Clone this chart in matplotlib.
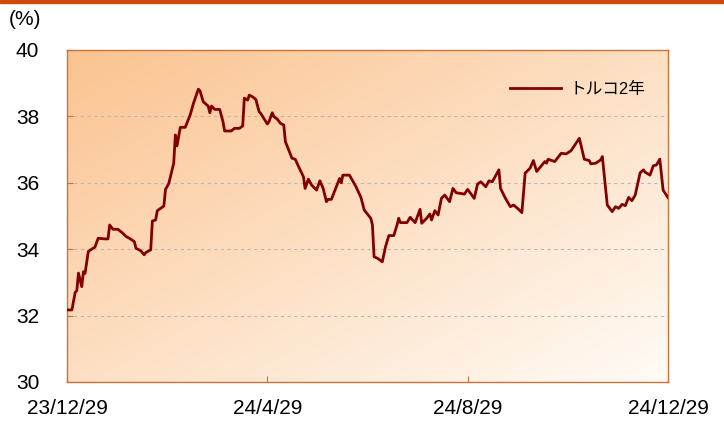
import numpy as np
import pandas as pd
import matplotlib
matplotlib.use('Agg')
import matplotlib.pyplot as plt
from matplotlib.patches import Rectangle

plt.rcParams['font.family'] = ['Liberation Sans', 'Noto Sans CJK JP', 'DejaVu Sans']

# トルコ2年国債利回り (%)
dates = [
    '2023-12-29', '2024-01-01', '2024-01-03', '2024-01-04', '2024-01-05', '2024-01-06',
    '2024-01-07', '2024-01-08', '2024-01-09', '2024-01-11', '2024-01-13', '2024-01-15',
    '2024-01-17', '2024-01-21', '2024-01-23', '2024-01-24', '2024-01-26', '2024-01-29',
    '2024-02-01', '2024-02-03', '2024-02-05', '2024-02-08', '2024-02-09', '2024-02-12',
    '2024-02-14', '2024-02-15', '2024-02-18', '2024-02-19', '2024-02-21', '2024-02-22',
    '2024-02-26', '2024-02-27', '2024-02-29', '2024-03-03', '2024-03-04', '2024-03-05',
    '2024-03-07', '2024-03-10', '2024-03-13', '2024-03-15', '2024-03-18', '2024-03-19',
    '2024-03-21', '2024-03-24', '2024-03-25', '2024-03-26', '2024-03-28', '2024-03-31',
    '2024-04-02', '2024-04-03', '2024-04-07', '2024-04-09', '2024-04-12', '2024-04-14',
    '2024-04-15', '2024-04-17', '2024-04-18', '2024-04-20', '2024-04-22', '2024-04-24',
    '2024-04-25', '2024-04-29', '2024-04-30', '2024-05-02', '2024-05-03', '2024-05-05',
    '2024-05-07', '2024-05-09', '2024-05-10', '2024-05-12', '2024-05-14', '2024-05-16',
    '2024-05-18', '2024-05-21', '2024-05-22', '2024-05-24', '2024-05-26', '2024-05-29',
    '2024-05-31', '2024-06-02', '2024-06-04', '2024-06-05', '2024-06-07', '2024-06-10',
    '2024-06-12', '2024-06-13', '2024-06-14', '2024-06-18', '2024-06-22', '2024-06-25',
    '2024-06-27', '2024-07-01', '2024-07-02', '2024-07-03', '2024-07-05', '2024-07-08',
    '2024-07-10', '2024-07-12', '2024-07-15', '2024-07-17', '2024-07-18', '2024-07-19',
    '2024-07-23', '2024-07-25', '2024-07-28', '2024-07-31', '2024-08-01', '2024-08-04',
    '2024-08-06', '2024-08-07', '2024-08-09', '2024-08-11', '2024-08-13', '2024-08-15',
    '2024-08-18', '2024-08-20', '2024-08-22', '2024-08-27', '2024-08-29', '2024-09-02',
    '2024-09-04', '2024-09-06', '2024-09-09', '2024-09-11', '2024-09-13', '2024-09-17',
    '2024-09-18', '2024-09-21', '2024-09-24', '2024-09-26', '2024-09-29', '2024-10-01',
    '2024-10-03', '2024-10-06', '2024-10-08', '2024-10-10', '2024-10-15', '2024-10-16',
    '2024-10-17', '2024-10-21', '2024-10-25', '2024-10-28', '2024-10-31', '2024-11-03',
    '2024-11-05', '2024-11-08', '2024-11-11', '2024-11-12', '2024-11-15', '2024-11-18',
    '2024-11-19', '2024-11-22', '2024-11-25', '2024-11-27', '2024-11-29', '2024-12-01',
    '2024-12-03', '2024-12-05', '2024-12-07', '2024-12-09', '2024-12-12', '2024-12-14',
    '2024-12-15', '2024-12-18', '2024-12-20', '2024-12-22', '2024-12-24', '2024-12-26',
    '2024-12-28', '2024-12-29',
]
yields = [
    32.17, 32.17, 32.70, 32.75, 33.28, 33.07,
    32.87, 33.32, 33.27, 33.93, 34.00, 34.06,
    34.33, 34.31, 34.31, 34.73, 34.60, 34.60,
    34.48, 34.38, 34.33, 34.23, 34.03, 33.95,
    33.83, 33.90, 33.98, 34.85, 34.88, 35.16,
    35.30, 35.80, 35.98, 36.59, 37.44, 37.11,
    37.67, 37.67, 38.04, 38.39, 38.82, 38.77,
    38.44, 38.31, 38.11, 38.31, 38.21, 38.21,
    37.84, 37.56, 37.56, 37.64, 37.64, 37.71,
    38.55, 38.49, 38.64, 38.59, 38.51, 38.14,
    38.09, 37.77, 37.84, 38.11, 37.99, 37.92,
    37.79, 37.74, 37.24, 36.99, 36.74, 36.71,
    36.49, 36.18, 35.83, 36.11, 35.93, 35.78,
    36.06, 35.83, 35.43, 35.50, 35.50, 35.88,
    36.13, 36.00, 36.23, 36.23, 35.88, 35.56,
    35.18, 34.93, 34.73, 33.77, 33.73, 33.62,
    34.08, 34.41, 34.41, 34.73, 34.93, 34.80,
    34.80, 34.96, 34.80, 35.20, 34.78, 34.93,
    35.06, 34.88, 35.16, 35.03, 35.53, 35.63,
    35.43, 35.83, 35.70, 35.66, 35.80, 35.53,
    35.96, 36.03, 35.88, 36.06, 36.03, 36.39,
    35.83, 35.53, 35.28, 35.33, 35.20, 35.10,
    36.29, 36.44, 36.67, 36.34, 36.64, 36.59,
    36.71, 36.64, 36.89, 36.87, 36.97, 37.19,
    37.34, 36.71, 36.67, 36.57, 36.59, 36.69,
    36.79, 35.33, 35.13, 35.28, 35.23, 35.35,
    35.31, 35.56, 35.46, 35.63, 36.30, 36.39,
    36.32, 36.23, 36.51, 36.54, 36.71, 35.78,
    35.63, 35.55,
]
tick_dates = ['2023-12-29', '2024-04-29', '2024-08-29', '2024-12-29']
tick_labels = ['23/12/29', '24/4/29', '24/8/29', '24/12/29']
y_ticks = [30, 32, 34, 36, 38, 40]

x = pd.to_datetime(dates)
ticks = pd.to_datetime(tick_dates)

edge = '#c8733a'

fig = plt.figure(figsize=(7.24, 4.25), dpi=100)
ax = fig.add_axes([0.0925, 0.1012, 0.8302, 0.7812])

# orange bar at the very top
fig.patches.append(Rectangle((0, 0.993), 1, 0.007, transform=fig.transFigure,
                             color='#cc4a0a', zorder=0))

# diagonal gradient background, orange top-left -> white bottom-right
gx, gy = np.meshgrid(np.linspace(0, 1, 200), np.linspace(1, 0, 200))
t = np.clip(((1 - gx) + gy) / 2, 0, 1)
c0 = np.array([1.0, 0.985, 0.965])
c1 = np.array([0.985, 0.765, 0.565])
img = c0[None, None, :] * (1 - t[..., None]) + c1[None, None, :] * t[..., None]
ax.imshow(img, extent=[0, 1, 0, 1], transform=ax.transAxes, aspect='auto',
          zorder=0, interpolation='bilinear')

# dashed gridlines (not on the top border)
for yv in y_ticks[1:-1]:
    ax.axhline(yv, color='#b8b8b8', linestyle=(0, (3, 3)), lw=0.8, zorder=1)

ax.plot(x, yields, color='#820000', lw=2.0, label='トルコ2年', zorder=3)

ax.set_xlim(ticks[0], ticks[-1])
ax.set_ylim(30, 40)
ax.set_yticks(y_ticks)
ax.set_xticks(ticks)
ax.set_xticklabels(tick_labels)

for s in ax.spines.values():
    s.set_color(edge)
    s.set_linewidth(1.0)
ax.tick_params(axis='both', direction='in', color=edge, length=4,
               labelsize=15, labelcolor='black')
ax.tick_params(axis='y', pad=20)
ax.tick_params(axis='x', pad=12)

fig.text(0.012, 0.955, '(%)', fontsize=15, ha='left', va='center')

ax.legend(loc='upper right', bbox_to_anchor=(0.987, 0.95), frameon=False,
          fontsize=12, handlelength=3.05, handletextpad=0.5)

fig.savefig('out.png', dpi=100)
